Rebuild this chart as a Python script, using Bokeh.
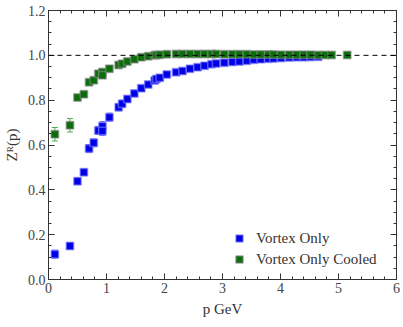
import numpy as np
from bokeh.plotting import figure
from bokeh.models import (LinearAxis, Range1d, Span, Legend, LegendItem,
                          FixedTicker, ColumnDataSource, Whisker, TeeHead)
from bokeh.embed import file_html
from bokeh.resources import INLINE

# ---------------- data ----------------
p_blue = [0.11, 0.37, 0.50, 0.61, 0.70, 0.78, 0.86, 0.93, 0.93, 1.05, 1.21,
          1.27, 1.36, 1.48, 1.60, 1.72, 1.83, 1.86, 1.92, 2.04, 2.20, 2.31,
          2.44, 2.57, 2.69, 2.81, 2.89, 3.03, 3.17, 3.29, 3.42, 3.54, 3.66,
          3.79, 3.88, 4.01, 4.15, 4.28, 4.40, 4.52, 4.65]
z_blue = [0.113, 0.150, 0.438, 0.478, 0.584, 0.610, 0.665, 0.684, 0.663,
          0.724, 0.768, 0.784, 0.805, 0.830, 0.853, 0.870, 0.888, 0.894,
          0.900, 0.914, 0.924, 0.930, 0.940, 0.947, 0.954, 0.960, 0.964,
          0.967, 0.970, 0.973, 0.976, 0.980, 0.982, 0.985, 0.986, 0.988,
          0.990, 0.991, 0.992, 0.993, 0.994]
e_blue = [0.018, 0.014, 0.015, 0.015, 0.018, 0.018, 0.018, 0.02, 0.02,
          0.018, 0.016, 0.016, 0.015, 0.014, 0.013, 0.012, 0.012, 0.012,
          0.012, 0.011, 0.011, 0.011, 0.010, 0.010, 0.010, 0.010, 0.009,
          0.009, 0.009, 0.009, 0.008, 0.008, 0.008, 0.008, 0.008, 0.007,
          0.007, 0.007, 0.007, 0.007, 0.007]

p_green = [0.11, 0.37, 0.50, 0.61, 0.70, 0.78, 0.86, 0.93, 0.93, 1.05, 1.21,
           1.27, 1.36, 1.48, 1.60, 1.72, 1.83, 1.86, 1.92, 2.04, 2.20, 2.31,
           2.44, 2.57, 2.69, 2.81, 2.89, 3.03, 3.17, 3.29, 3.42, 3.54, 3.66,
           3.79, 3.88, 4.01, 4.15, 4.28, 4.40, 4.52, 4.65, 4.77, 4.88, 5.15]
z_green = [0.648, 0.688, 0.812, 0.826, 0.880, 0.889, 0.918, 0.926, 0.911,
           0.940, 0.957, 0.963, 0.973, 0.983, 0.991, 0.996, 1.000, 1.002,
           1.003, 1.005, 1.006, 1.006, 1.006, 1.006, 1.006, 1.006, 1.006,
           1.005, 1.005, 1.005, 1.005, 1.004, 1.004, 1.004, 1.004, 1.003,
           1.003, 1.003, 1.003, 1.003, 1.002, 1.002, 1.002, 1.001]
e_green = [0.030, 0.030, 0.010, 0.010, 0.009, 0.008, 0.008, 0.008, 0.008,
           0.007, 0.006, 0.006, 0.006, 0.005, 0.005, 0.005, 0.005, 0.005,
           0.005, 0.004, 0.004, 0.004, 0.004, 0.004, 0.004, 0.004, 0.004,
           0.004, 0.004, 0.004, 0.004, 0.004, 0.004, 0.004, 0.004, 0.004,
           0.004, 0.004, 0.004, 0.004, 0.004, 0.004, 0.004, 0.004]

x_ticks = [0, 1, 2, 3, 4, 5, 6]
x_minor = [round(0.2 * i, 2) for i in range(31)]
y_ticks = [0.0, 0.2, 0.4, 0.6, 0.8, 1.0, 1.2]
y_minor = [round(0.05 * i, 2) for i in range(25)]
reference_level = 1.0

labels = ["Vortex Only", "Vortex Only Cooled"]

# ---------------- figure ----------------
FONT = "Liberation Serif"
AX = "#333333"

p = figure(x_range=Range1d(0, 6), y_range=Range1d(0, 1.2),
           output_backend="svg", toolbar_location=None,
           x_axis_label="p GeV", y_axis_label="Z\u1d3f(p)")
p.frame_width = 348
p.frame_height = 269
p.min_border_left = 36
p.min_border_right = 7
p.min_border_top = 10
p.min_border_bottom = 36
p.xgrid.visible = False
p.ygrid.visible = False
p.outline_line_color = AX
p.background_fill_color = "white"
p.border_fill_color = "white"

p.add_layout(LinearAxis(), "right")
p.add_layout(LinearAxis(), "above")

for ax in p.axis:
    ax.axis_line_color = AX
    ax.major_tick_line_color = AX
    ax.minor_tick_line_color = AX
    ax.major_tick_in = 6
    ax.major_tick_out = 0
    ax.minor_tick_in = 3
    ax.minor_tick_out = 0
    ax.major_label_text_font = FONT
    ax.major_label_text_font_size = "14px"
    ax.major_label_text_color = "#444444"
    ax.major_label_standoff = 3
    ax.axis_label_text_font = FONT
    ax.axis_label_text_font_size = "15px"
    ax.axis_label_text_font_style = "normal"
    ax.axis_label_text_color = "#333333"

for ax in p.xaxis:
    ax.ticker = FixedTicker(ticks=x_ticks, minor_ticks=x_minor)
for ax in p.yaxis:
    ax.ticker = FixedTicker(ticks=y_ticks, minor_ticks=y_minor)
p.yaxis[0].major_label_overrides = {v: f"{v:.1f}" for v in y_ticks}
p.yaxis[0].axis_label_standoff = 5
p.xaxis[0].axis_label_standoff = 10

# no labels on right and top axes
p.right[0].major_label_overrides = {v: "" for v in y_ticks}
p.above[0].major_label_overrides = {v: "" for v in x_ticks}
p.right[0].major_label_standoff = 0
p.above[0].major_label_standoff = 0

p.add_layout(Span(location=reference_level, dimension="width",
                  line_color="black", line_dash="5 4", line_width=1))

def series(px, pz, pe, fill, edge, bar):
    src = ColumnDataSource(dict(x=px, y=pz,
                                lo=[a - b for a, b in zip(pz, pe)],
                                hi=[a + b for a, b in zip(pz, pe)]))
    w = Whisker(source=src, base="x", upper="hi", lower="lo",
                line_color=bar, line_width=1,
                upper_head=TeeHead(size=6, line_color=bar, line_width=1),
                lower_head=TeeHead(size=6, line_color=bar, line_width=1))
    p.add_layout(w)
    r = p.scatter("x", "y", source=src, marker="square", size=7.5,
                  fill_color=fill, line_color=edge, line_width=1.5,
                  line_alpha=0.6)
    return r

rb = series(p_blue, z_blue, e_blue, "#0000e6", "#8080ff", "#5a5aff")
rg = series(p_green, z_green, e_green, "#0a6e0a", "#888888", "#4caf4c")

legend = Legend(items=[LegendItem(label=labels[0], renderers=[rb]),
                       LegendItem(label=labels[1], renderers=[rg])],
                location=(178, 7), border_line_alpha=0,
                background_fill_alpha=0, label_text_font=FONT,
                label_text_font_size="15px", label_text_color="#333333",
                glyph_width=18, glyph_height=18, spacing=3, padding=4,
                label_standoff=8, margin=0)
p.add_layout(legend)

open("out.html", "w").write(file_html(p, INLINE))
